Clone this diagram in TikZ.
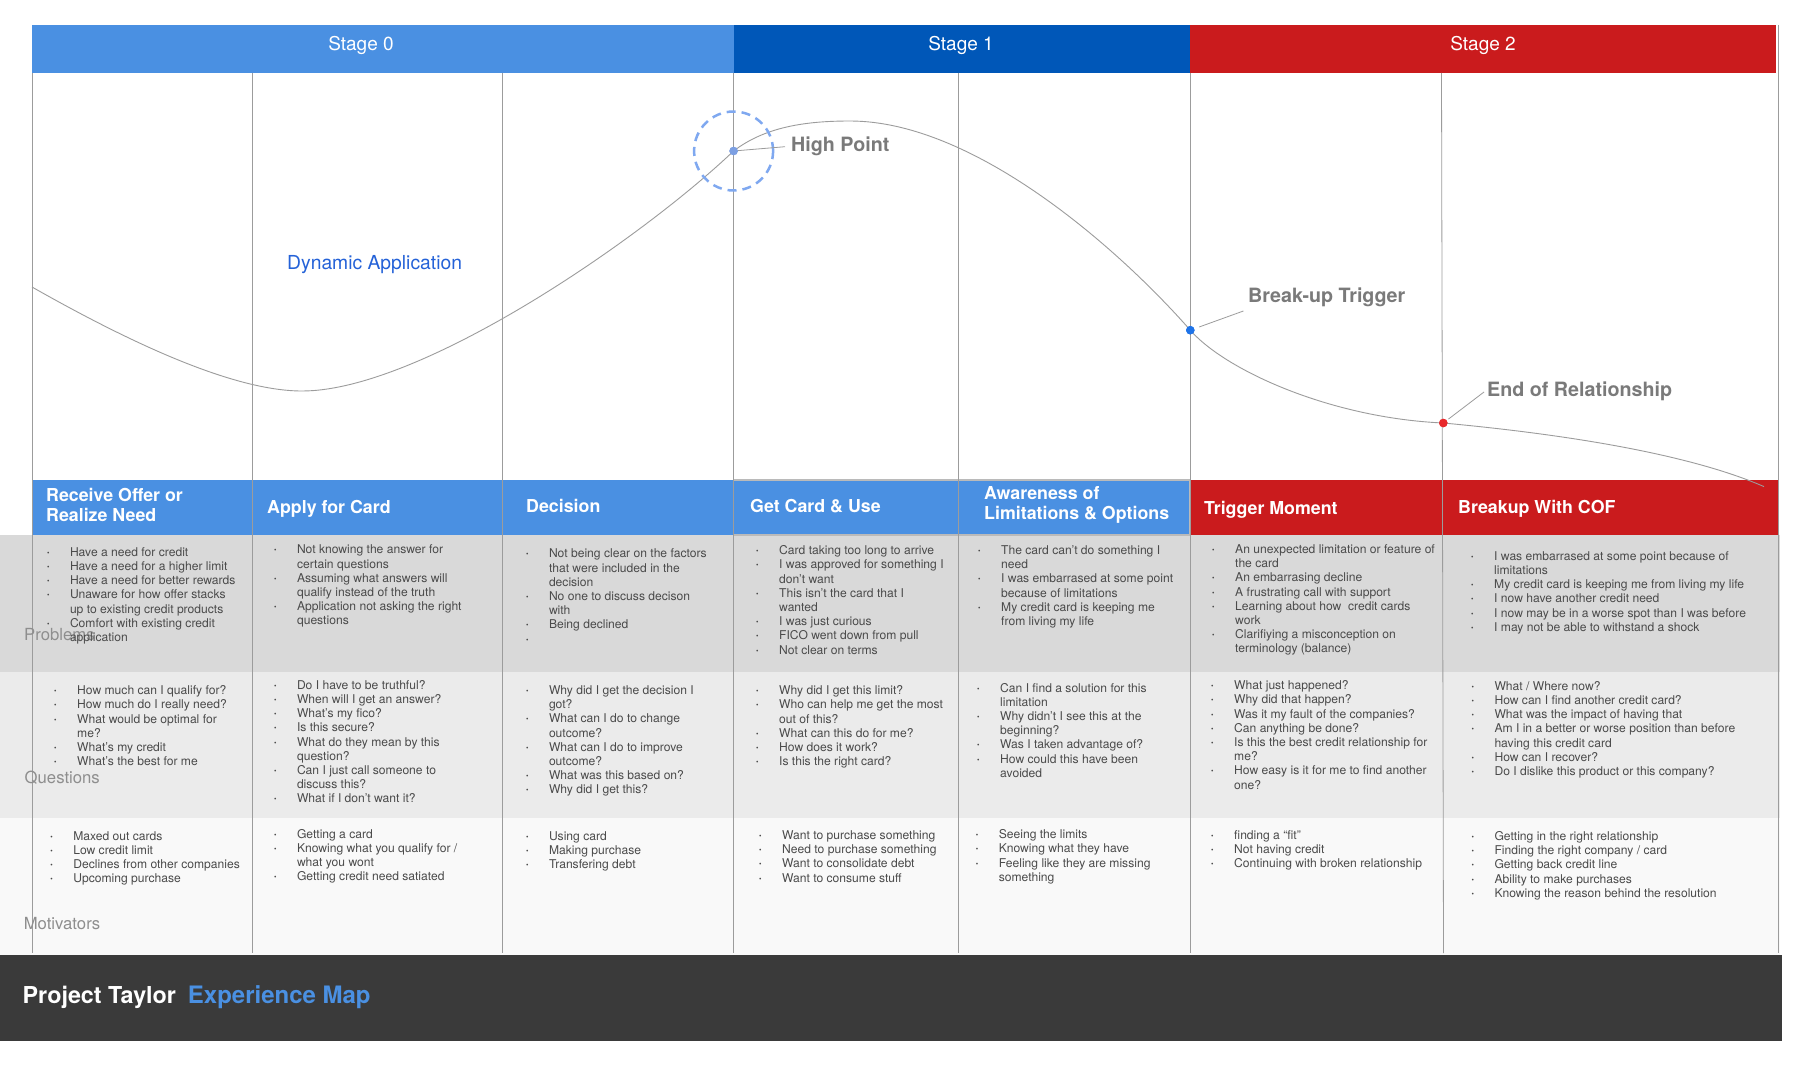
\documentclass[tikz,border=0pt]{standalone}
\usepackage{fontspec}
\setmainfont{TeX Gyre Heros}
\usetikzlibrary{calc}

\definecolor{lightblue}{HTML}{4A90E2}
\definecolor{darkblue}{HTML}{0057B8}
\definecolor{mapred}{HTML}{CA1B1D}
\definecolor{rowA}{HTML}{D9D9D9}
\definecolor{rowB}{HTML}{EBEBEB}
\definecolor{rowC}{HTML}{F9F9F9}
\definecolor{footerbg}{HTML}{3A3A3A}
\definecolor{bodytext}{HTML}{4A4A4A}
\definecolor{gridline}{HTML}{9C9C9C}
\definecolor{notegray}{HTML}{7A7A7A}
\definecolor{rowlabel}{HTML}{8E8E8E}
\definecolor{dynblue}{HTML}{2462D8}
\definecolor{ringblue}{HTML}{7FA8F0}
\definecolor{hpdot}{HTML}{7C9FE2}
\definecolor{btdot}{HTML}{1E73E8}
\definecolor{enddot}{HTML}{E8282B}

% bullet hanging 23pt to the left of the item text
\newcommand\bul{\leavevmode\llap{\makebox[23pt][l]{\raisebox{1pt}{\fontsize{7}{7}\selectfont •}}}}

\tikzset{
  cell/.style={anchor=north west, inner sep=0pt, align=left, text=bodytext,
    font=\fontsize{12.1}{14.2}\selectfont, execute at begin node={\rule{0pt}{9pt}}},
  hdr/.style={anchor=west, inner sep=0pt, align=left, text=white,
    font=\fontsize{17.8}{19.5}\selectfont\bfseries},
  hdrone/.style={anchor=base west, inner sep=0pt, text=white,
    font=\fontsize{17.8}{19.5}\selectfont\bfseries},
  stagelbl/.style={anchor=base, inner sep=0pt, text=white, font=\fontsize{19}{22}\selectfont},
  rowlbl/.style={anchor=base west, inner sep=0pt, text=rowlabel, font=\fontsize{16.7}{19}\selectfont},
  note/.style={anchor=base west, inner sep=0pt, text=notegray, font=\fontsize{19.7}{22}\selectfont\bfseries},
  leader/.style={draw=gridline, line width=0.8pt},
  dot/.style={circle, inner sep=0pt, minimum size=8.5pt},
  grid/.style={draw=gridline, line width=0.8pt},
}

\begin{document}
\begin{tikzpicture}[x=1pt,y=-1pt]
\useasboundingbox (0,0) rectangle (1805,1065);
\fill[white] (0,0) rectangle (1805,1065);

% row bands
\fill[rowA] (0,535) rectangle (1780,671.5);
\fill[rowB] (0,671.5) rectangle (1780,818);
\fill[rowC] (0,818) rectangle (1780,955);
\fill[footerbg] (0,955) rectangle (1782,1041);

% stage bars
\fill[lightblue] (32,25) rectangle (733.5,73);
\fill[darkblue] (733.5,25) rectangle (1190,73);
\fill[mapred] (1190,25) rectangle (1776,73);
\node[stagelbl] (s0) at (361,51) {Stage 0};
\node[stagelbl] (s1) at (961,51) {Stage 1};
\node[stagelbl] (s2) at (1483,51) {Stage 2};

% step header cells
\fill[lightblue] (32,480) rectangle (252.5,535);
\fill[lightblue] (252.5,480) rectangle (502.5,535);
\fill[lightblue] (502.5,480) rectangle (733.5,535);
\fill[lightblue] (733.5,480) rectangle (958.5,535);
\fill[lightblue] (958.5,480) rectangle (1190,535);
\fill[mapred] (1190,480) rectangle (1443,535);
\fill[mapred] (1443,480) rectangle (1778,535);
\draw[gridline!70, line width=1.2pt] (733.5,480) rectangle (1190,535);

% column rules
\foreach \cx in {32,252.5,502.5,733.5,958.5,1190}
  \draw[grid] (\cx,73) -- (\cx,953);
\draw[grid] (1441.5,73) -- (1443.5,953);
\draw[grid] (1778,25) -- (1778,953);

\node[hdr] (h1) at (46,504.7) {Receive Offer or\\Realize Need};
\node[hdrone] (h2) at (267,513.8) {Apply for Card};
\node[hdrone] (h3) at (526,512.3) {Decision};
\node[hdrone] (h4) at (750,512) {Get Card \& Use};
\node[hdr] (h5) at (984,505) {Awareness of\\Limitations \& Options};
\node[hdrone] (h6) at (1204,514.3) {Trigger Moment};
\node[hdrone] (h7) at (1458,513.1) {Breakup With COF};

% moments on the curve
\coordinate (c0) at (32,287);
\coordinate (cmin) at (302,391);
\coordinate (cpeak) at (850,121);
\coordinate (cend) at (1764,486.6);
\node[dot, fill=hpdot] (hp) at (733.6,151) {};
\node[dot, fill=btdot] (bt) at (1190.3,330.2) {};
\node[dot, fill=enddot] (er) at (1443.3,423) {};

% experience curve
\draw[gridline, line width=0.9pt]
  (c0) .. controls (122,338) and (230,391) .. (cmin)
       .. controls (420,391) and (640,240) .. (hp.center)
       .. controls (765,127) and (805,121) .. (cpeak)
       .. controls (975,121) and (1120,250) .. (bt.center)
       .. controls (1225,370) and (1330,418) .. (er.center)
       .. controls (1540,432) and (1680,450) .. (cend);

% redraw dots over the curve
\fill[hpdot] (hp) circle[radius=4.25pt];
\fill[btdot] (bt) circle[radius=4.25pt];
\fill[enddot] (er) circle[radius=4.25pt];
\node[circle, draw=ringblue, dashed, dash pattern=on 9pt off 6pt, line width=2.5pt,
      minimum size=79pt, inner sep=0pt] (hpring) at (hp) {};

\node[note] (hplbl) at (791,151) {High Point};
\node[note] (btlbl) at (1248,302.5) {Break-up Trigger};
\node[note] (erlbl) at (1487,396.3) {End of Relationship};
\coordinate (hpend) at (785,146.7);
\coordinate (btend) at (1243.4,311);
\coordinate (erend) at (1484,392);
\draw[leader] (hp) -- (hpend);
\draw[leader, shorten <=5pt] (bt) -- (btend);
\draw[leader, shorten <=2pt] (er) -- (erend);

\node[anchor=base west, inner sep=0pt, text=dynblue, font=\fontsize{19.3}{22}\selectfont]
  (dyn) at (287,269) {Dynamic Application};

% row labels
\node[rowlbl] (lp) at (24,640) {Problems};
\node[rowlbl] (lq) at (24.5,783) {Questions};
\node[rowlbl] (lm) at (23.6,929) {Motivators};

% problems
\node[cell] (p1) at (69.8,547.2) {\bul Have a need for credit\\\bul Have a need for a higher limit\\\bul Have a need for better rewards\\\bul Unaware for how offer stacks\\up to existing credit products\\\bul Comfort with existing credit\\application};
\node[cell] (p2) at (296.8,544.8) {\bul Not knowing the answer for\\certain questions\\\bul Assuming what answers will\\qualify instead of the truth\\\bul Application not asking the right\\questions};
\node[cell] (p3) at (548.8,548.8) {\bul Not being clear on the factors\\that were included in the\\decision\\\bul No one to discuss decison\\with\\\bul Being declined\\\bul};
\node[cell] (p4) at (779,545.5) {\bul Card taking too long to arrive\\\bul I was approved for something I\\don’t want\\\bul This isn’t the card that I\\wanted\\\bul I was just curious\\\bul FICO went down from pull\\\bul Not clear on terms};
\node[cell] (p5) at (1001,545.5) {\bul The card can’t do something I\\need\\\bul I was embarrased at some point\\because of limitations\\\bul My credit card is keeping me\\from living my life};
\node[cell] (p6) at (1235,544.5) {\bul An unexpected limitation or feature of\\the card\\\bul An embarrasing decline\\\bul A frustrating call with support\\\bul Learning about how\ \ credit cards\\work\\\bul Clarifiying a misconception on\\terminology (balance)};
\node[cell] (p7) at (1494,551.2) {\bul I was embarrased at some point because of\\limitations\\\bul My credit card is keeping me from living my life\\\bul I now have another credit need\\\bul I now may be in a worse spot than I was before\\\bul I may not be able to withstand a shock};

% questions
\node[cell] (q1) at (77,685.5) {\bul How much can I qualify for?\\\bul How much do I really need?\\\bul What would be optimal for\\me?\\\bul What’s my credit\\\bul What’s the best for me};
\node[cell] (q2) at (296.8,680.2) {\bul Do I have to be truthful?\\\bul When will I get an answer?\\\bul What’s my fico?\\\bul Is this secure?\\\bul What do they mean by this\\question?\\\bul Can I just call someone to\\discuss this?\\\bul What if I don’t want it?};
\node[cell] (q3) at (548.8,685.5) {\bul Why did I get the decision I\\got?\\\bul What can I do to change\\outcome?\\\bul What can I do to improve\\outcome?\\\bul What was this based on?\\\bul Why did I get this?};
\node[cell] (q4) at (779,685.5) {\bul Why did I get this limit?\\\bul Who can help me get the most\\out of this?\\\bul What can this do for me?\\\bul How does it work?\\\bul Is this the right card?};
\node[cell] (q5) at (1000,682.8) {\bul Can I find a solution for this\\limitation\\\bul Why didn’t I see this at the\\beginning?\\\bul Was I taken advantage of?\\\bul How could this have been\\avoided};
\node[cell] (q6) at (1234,680.5) {\bul What just happened?\\\bul Why did that happen?\\\bul Was it my fault of the companies?\\\bul Can anything be done?\\\bul Is this the best credit relationship for\\me?\\\bul How easy is it for me to find another\\one?};
\node[cell] (q7) at (1494.3,681.2) {\bul What / Where now?\\\bul How can I find another credit card?\\\bul What was the impact of having that\\\bul Am I in a better or worse position than before\\having this credit card\\\bul How can I recover?\\\bul Do I dislike this product or this company?};

% motivators
\node[cell] (m1) at (73.1,831.2) {\bul Maxed out cards\\\bul Low credit limit\\\bul Declines from other companies\\\bul Upcoming purchase};
\node[cell] (m2) at (296.8,828.8) {\bul Getting a card\\\bul Knowing what you qualify for /\\what you wont\\\bul Getting credit need satiated};
\node[cell] (m3) at (548.8,831.2) {\bul Using card\\\bul Making purchase\\\bul Transfering debt};
\node[cell] (m4) at (782,830.5) {\bul Want to purchase something\\\bul Need to purchase something\\\bul Want to consolidate debt\\\bul Want to consume stuff};
\node[cell] (m5) at (998.6,829.5) {\bul Seeing the limits\\\bul Knowing what they have\\\bul Feeling like they are missing\\something};
\node[cell] (m6) at (1234,830.5) {\bul finding a “fit”\\\bul Not having credit\\\bul Continuing with broken relationship};
\node[cell] (m7) at (1494.3,831.2) {\bul Getting in the right relationship\\\bul Finding the right company / card\\\bul Getting back credit line\\\bul Ability to make purchases\\\bul Knowing the reason behind the resolution};

% footer title
\node[anchor=base west, inner sep=0pt, text=white, font=\fontsize{23.3}{26}\selectfont\bfseries]
  (title) at (22.5,1003.3) {Project Taylor};
\node[anchor=base west, inner sep=0pt, text=lightblue, font=\fontsize{24}{26}\selectfont\bfseries]
  (subtitle) at (187.7,1003.3) {Experience Map};
\end{tikzpicture}
\end{document}
